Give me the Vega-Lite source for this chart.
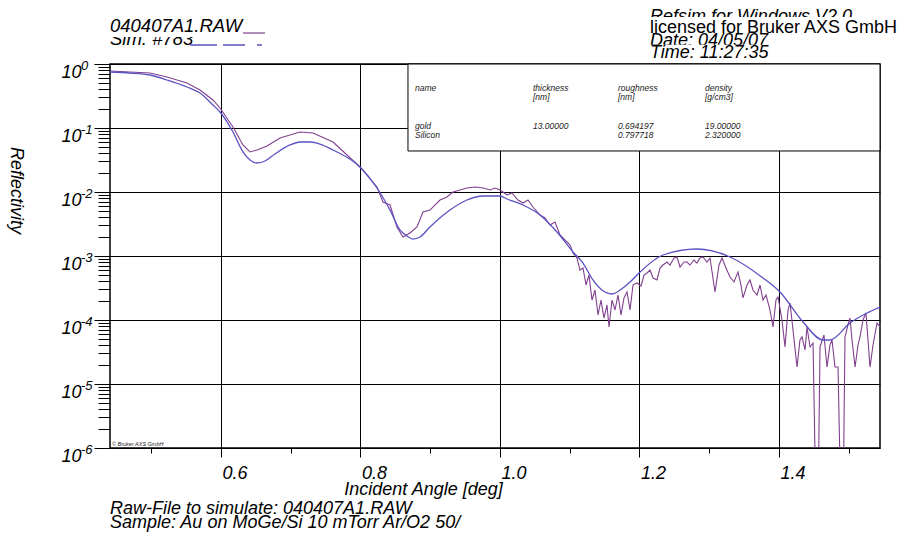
{
  "$schema": "https://vega.github.io/schema/vega-lite/v6.json",
  "width": 770,
  "height": 384,
  "autosize": {"type": "none"},
  "padding": {"left": 110, "top": 64, "right": 29, "bottom": 92},
  "background": "white",
  "config": {"font": "Liberation Sans", "view": {"stroke": "#000", "strokeWidth": 1.5}},
  "datasets": {
    "measured": [
      {"a": 0.4409, "r": 0.777}, {"a": 0.4695, "r": 0.75}, {"a": 0.4982, "r": 0.7236}, {"a": 0.5226, "r": 0.626},
      {"a": 0.5513, "r": 0.5046}, {"a": 0.5699, "r": 0.3925}, {"a": 0.5885, "r": 0.274}, {"a": 0.5986, "r": 0.2054},
      {"a": 0.6172, "r": 0.1037}, {"a": 0.6315, "r": 0.0543}, {"a": 0.6416, "r": 0.0422}, {"a": 0.6516, "r": 0.0453},
      {"a": 0.666, "r": 0.0523}, {"a": 0.6846, "r": 0.0698}, {"a": 0.7133, "r": 0.0866}, {"a": 0.7319, "r": 0.0835},
      {"a": 0.7606, "r": 0.0604}, {"a": 0.7993, "r": 0.0246}, {"a": 0.8237, "r": 0.01197}, {"a": 0.8323, "r": 0.00698},
      {"a": 0.8423, "r": 0.00626}, {"a": 0.8523, "r": 0.00284}, {"a": 0.8609, "r": 0.00198}, {"a": 0.871, "r": 0.00229},
      {"a": 0.881, "r": 0.00284}, {"a": 0.8896, "r": 0.00487}, {"a": 0.8996, "r": 0.00523}, {"a": 0.914, "r": 0.0075},
      {"a": 0.924, "r": 0.00835}, {"a": 0.9326, "r": 0.01}, {"a": 0.9427, "r": 0.01074}, {"a": 0.9527, "r": 0.01155},
      {"a": 0.9642, "r": 0.01197}, {"a": 0.9756, "r": 0.01155}, {"a": 0.9857, "r": 0.01074}, {"a": 0.9928, "r": 0.01155},
      {"a": 1.0, "r": 0.01074}, {"a": 1.0101, "r": 0.00898}, {"a": 1.0172, "r": 0.00965}, {"a": 1.0258, "r": 0.0075},
      {"a": 1.033, "r": 0.00673}, {"a": 1.0401, "r": 0.0075}, {"a": 1.0473, "r": 0.00583}, {"a": 1.0574, "r": 0.00437},
      {"a": 1.0645, "r": 0.003925}, {"a": 1.0717, "r": 0.00305}, {"a": 1.0789, "r": 0.0034}, {"a": 1.086, "r": 0.00213},
      {"a": 1.0932, "r": 0.00178}, {"a": 1.1004, "r": 0.001486}, {"a": 1.1047, "r": 0.001114}, {"a": 1.1104, "r": 0.00093},
      {"a": 1.1147, "r": 0.000604}, {"a": 1.119, "r": 0.000649}, {"a": 1.1233, "r": 0.000352}, {"a": 1.1276, "r": 0.000505},
      {"a": 1.1319, "r": 0.000205}, {"a": 1.1362, "r": 0.000294}, {"a": 1.1405, "r": 0.0001197}, {"a": 1.1448, "r": 0.000205},
      {"a": 1.1491, "r": 0.0001074}, {"a": 1.1534, "r": 0.0001716}, {"a": 1.1563, "r": 0.0000777}, {"a": 1.1606, "r": 0.000205},
      {"a": 1.1649, "r": 0.0001433}, {"a": 1.1692, "r": 0.000246}, {"a": 1.1735, "r": 0.0001197}, {"a": 1.1778, "r": 0.000221},
      {"a": 1.1821, "r": 0.000274}, {"a": 1.1864, "r": 0.0001433}, {"a": 1.1907, "r": 0.000352}, {"a": 1.1964, "r": 0.000379},
      {"a": 1.2022, "r": 0.00034}, {"a": 1.2065, "r": 0.000505}, {"a": 1.2108, "r": 0.000543}, {"a": 1.2151, "r": 0.000604},
      {"a": 1.2194, "r": 0.000453}, {"a": 1.2251, "r": 0.000422}, {"a": 1.2294, "r": 0.000649}, {"a": 1.2337, "r": 0.000723},
      {"a": 1.2394, "r": 0.000806}, {"a": 1.2437, "r": 0.000723}, {"a": 1.2495, "r": 0.00093}, {"a": 1.2538, "r": 0.000965},
      {"a": 1.2581, "r": 0.000673}, {"a": 1.2638, "r": 0.000806}, {"a": 1.2681, "r": 0.000806}, {"a": 1.2724, "r": 0.000723},
      {"a": 1.2781, "r": 0.000866}, {"a": 1.2824, "r": 0.000777}, {"a": 1.2867, "r": 0.00093}, {"a": 1.291, "r": 0.000965},
      {"a": 1.2968, "r": 0.000806}, {"a": 1.3011, "r": 0.00093}, {"a": 1.3083, "r": 0.000274}, {"a": 1.314, "r": 0.000723},
      {"a": 1.3183, "r": 0.00093}, {"a": 1.324, "r": 0.000649}, {"a": 1.3298, "r": 0.00047}, {"a": 1.3355, "r": 0.000392},
      {"a": 1.3412, "r": 0.000562}, {"a": 1.3455, "r": 0.000352}, {"a": 1.3484, "r": 0.000221}, {"a": 1.3541, "r": 0.000352},
      {"a": 1.3584, "r": 0.000422}, {"a": 1.3627, "r": 0.000294}, {"a": 1.3685, "r": 0.000246}, {"a": 1.3728, "r": 0.000352},
      {"a": 1.3771, "r": 0.000205}, {"a": 1.3814, "r": 0.000246}, {"a": 1.3871, "r": 0.0001433}, {"a": 1.3914, "r": 0.0000777},
      {"a": 1.3957, "r": 0.000205}, {"a": 1.3986, "r": 0.000229}, {"a": 1.4043, "r": 0.0001}, {"a": 1.4086, "r": 0.0000379},
      {"a": 1.4129, "r": 0.0001433}, {"a": 1.4158, "r": 0.000184}, {"a": 1.4201, "r": 0.0000698}, {"a": 1.4258, "r": 0.0000184},
      {"a": 1.4301, "r": 0.0000487}, {"a": 1.433, "r": 0.0000543}, {"a": 1.4373, "r": 0.000034}, {"a": 1.4402, "r": 0.0000777},
      {"a": 1.4445, "r": 0.0000379}, {"a": 1.4488, "r": 0.0000437}, {"a": 1.4531, "r": 0.0000001}, {"a": 1.4559, "r": 0.0000001},
      {"a": 1.4588, "r": 0.0000379}, {"a": 1.4645, "r": 0.0000583}, {"a": 1.4688, "r": 0.0000184}, {"a": 1.4731, "r": 0.0000407},
      {"a": 1.476, "r": 0.0000487}, {"a": 1.4803, "r": 0.0000184}, {"a": 1.4846, "r": 0.0000184}, {"a": 1.4889, "r": 0.0000001},
      {"a": 1.4918, "r": 0.0000001}, {"a": 1.4946, "r": 0.0000543}, {"a": 1.4989, "r": 0.0000835}, {"a": 1.5018, "r": 0.0001074},
      {"a": 1.5047, "r": 0.0000487}, {"a": 1.509, "r": 0.0000184}, {"a": 1.5133, "r": 0.0000407}, {"a": 1.5161, "r": 0.0000543},
      {"a": 1.5204, "r": 0.0001}, {"a": 1.5247, "r": 0.0001287}, {"a": 1.5276, "r": 0.0000487}, {"a": 1.5305, "r": 0.0000184},
      {"a": 1.5348, "r": 0.0000407}, {"a": 1.5405, "r": 0.0000898}, {"a": 1.5448, "r": 0.0000777}
    ],
    "simulated": [
      {"a": 0.4409, "r": 0.75}, {"a": 0.4695, "r": 0.7236}, {"a": 0.4982, "r": 0.673}, {"a": 0.5226, "r": 0.5623},
      {"a": 0.5513, "r": 0.4371}, {"a": 0.5699, "r": 0.3522}, {"a": 0.5885, "r": 0.2288}, {"a": 0.5986, "r": 0.1778},
      {"a": 0.6172, "r": 0.0866}, {"a": 0.6315, "r": 0.0422}, {"a": 0.6416, "r": 0.0316}, {"a": 0.6516, "r": 0.0284},
      {"a": 0.6631, "r": 0.0305}, {"a": 0.6774, "r": 0.0393}, {"a": 0.6989, "r": 0.0543}, {"a": 0.7133, "r": 0.0604},
      {"a": 0.7276, "r": 0.0604}, {"a": 0.7419, "r": 0.0562}, {"a": 0.7606, "r": 0.0453}, {"a": 0.7993, "r": 0.0246},
      {"a": 0.8237, "r": 0.01155}, {"a": 0.8423, "r": 0.00523}, {"a": 0.8566, "r": 0.00255}, {"a": 0.8667, "r": 0.00205},
      {"a": 0.8753, "r": 0.00184}, {"a": 0.8853, "r": 0.00198}, {"a": 0.8996, "r": 0.00284}, {"a": 0.9283, "r": 0.00523},
      {"a": 0.9527, "r": 0.0075}, {"a": 0.9756, "r": 0.00866}, {"a": 1.0, "r": 0.00866}, {"a": 1.0101, "r": 0.00777},
      {"a": 1.033, "r": 0.00626}, {"a": 1.0574, "r": 0.00437}, {"a": 1.0817, "r": 0.00237}, {"a": 1.1047, "r": 0.001155},
      {"a": 1.119, "r": 0.000777}, {"a": 1.1333, "r": 0.000422}, {"a": 1.1462, "r": 0.000294}, {"a": 1.1606, "r": 0.000255},
      {"a": 1.1763, "r": 0.000316}, {"a": 1.1864, "r": 0.000392}, {"a": 1.2007, "r": 0.000562}, {"a": 1.2337, "r": 0.001037},
      {"a": 1.2824, "r": 0.001287}, {"a": 1.3298, "r": 0.000965}, {"a": 1.3771, "r": 0.000453}, {"a": 1.4014, "r": 0.000274},
      {"a": 1.4344, "r": 0.0000931}, {"a": 1.4631, "r": 0.0000487}, {"a": 1.4731, "r": 0.0000487}, {"a": 1.5018, "r": 0.0000898},
      {"a": 1.5262, "r": 0.0001287}, {"a": 1.5448, "r": 0.0001596}
    ],
    "exponents": [
      {"r": 1, "e": "0"}, {"r": 0.1, "e": "-1"}, {"r": 0.01, "e": "-2"}, {"r": 0.001, "e": "-3"},
      {"r": 0.0001, "e": "-4"}, {"r": 0.00001, "e": "-5"}, {"r": 0.000001, "e": "-6"}
    ],
    "one": [{}]
  },
  "layer": [
    {
      "data": {"name": "measured"},
      "mark": {"type": "line", "clip": true, "color": "#80408f", "strokeWidth": 1.1},
      "encoding": {
        "x": {
          "field": "a", "type": "quantitative",
          "scale": {"domain": [0.4409, 1.5448], "nice": false, "zero": false},
          "axis": {
            "values": [0.5, 0.6, 0.7, 0.8, 0.9, 1.0, 1.1, 1.2, 1.3, 1.4, 1.5],
            "domain": false,
            "grid": true, "gridColor": "#000", "gridWidth": 1,
            "gridOpacity": {"condition": {"test": "round(datum.value*10)%2==0", "value": 1}, "value": 0},
            "ticks": true, "tickColor": "#000", "tickWidth": 1,
            "tickSize": {"condition": {"test": "round(datum.value*10)%2==0", "value": 9}, "value": 5},
            "labelExpr": "round(datum.value*10)%2==0 ? format(datum.value,'.1f') : ''",
            "labelAlign": "left", "labelBaseline": "alphabetic", "labelPadding": 21, "labelOffset": 1,
            "labelFlush": false, "labelOverlap": false,
            "labelFontSize": 18, "labelFontStyle": "italic", "labelColor": "#000",
            "title": "Incident Angle [deg]", "titleFontSize": 18, "titleFontStyle": "italic", "titleFontWeight": "normal",
            "titleColor": "#000", "titleX": 313, "titleY": 46, "titleBaseline": "alphabetic", "titleAlign": "center"
          }
        },
        "y": {
          "field": "r", "type": "quantitative",
          "scale": {"type": "log", "domain": [0.000001, 1], "nice": false},
          "axis": {
            "values": [0.000001, 0.000002, 0.000003, 0.000004, 0.000005, 0.000006, 0.000007, 0.000008, 0.000009,
                       0.00001, 0.00002, 0.00003, 0.00004, 0.00005, 0.00006, 0.00007, 0.00008, 0.00009,
                       0.0001, 0.0002, 0.0003, 0.0004, 0.0005, 0.0006, 0.0007, 0.0008, 0.0009,
                       0.001, 0.002, 0.003, 0.004, 0.005, 0.006, 0.007, 0.008, 0.009,
                       0.01, 0.02, 0.03, 0.04, 0.05, 0.06, 0.07, 0.08, 0.09,
                       0.1, 0.2, 0.3, 0.4, 0.5, 0.6, 0.7, 0.8, 0.9, 1],
            "domain": false,
            "grid": true, "gridColor": "#000", "gridWidth": 1,
            "gridOpacity": {"condition": {"test": "abs(log(datum.value)/LN10 - round(log(datum.value)/LN10)) < 0.01", "value": 1}, "value": 0},
            "ticks": true, "tickColor": "#000", "tickWidth": 1,
            "tickSize": {"condition": {"test": "abs(log(datum.value)/LN10 - round(log(datum.value)/LN10)) < 0.01", "value": 16}, "value": 12},
            "labelExpr": "abs(log(datum.value)/LN10 - round(log(datum.value)/LN10)) < 0.01 ? '10' : ''",
            "labelAlign": "right", "labelBaseline": "alphabetic", "labelPadding": 13, "labelOffset": 13,
            "labelFlush": false, "labelOverlap": false,
            "labelFontSize": 18, "labelFontStyle": "italic", "labelColor": "#000",
            "title": "Reflectivity", "titleFontSize": 18, "titleFontStyle": "italic", "titleFontWeight": "normal",
            "titleColor": "#000", "titleAngle": 90, "titleX": -95, "titleY": 126, "titleAlign": "center", "titleBaseline": "middle"
          }
        }
      }
    },
    {
      "data": {"name": "simulated"},
      "mark": {"type": "line", "clip": true, "interpolate": "monotone", "color": "#5a52c2", "strokeWidth": 1.3},
      "encoding": {
        "x": {"field": "a", "type": "quantitative"},
        "y": {"field": "r", "type": "quantitative"}
      }
    },
    {
      "data": {"name": "one"},
      "mark": {"type": "rect", "fill": "white", "stroke": "#000", "strokeWidth": 1},
      "encoding": {
        "x": {"datum": 0.8681}, "x2": {"datum": 1.5448},
        "y": {"datum": 1}, "y2": {"datum": 0.04375}
      }
    },
    {
      "data": {"name": "one"},
      "mark": {"type": "text", "text": "name", "fontSize": 8.5, "fontStyle": "italic", "align": "left", "baseline": "alphabetic", "color": "#222"},
      "encoding": {"x": {"datum": 0.8781}, "y": {"datum": 0.3787}}
    },
    {
      "data": {"name": "one"},
      "mark": {"type": "text", "text": ["thickness", "[nm]"], "lineHeight": 9, "fontSize": 8.5, "fontStyle": "italic", "align": "left", "baseline": "alphabetic", "color": "#222"},
      "encoding": {"x": {"datum": 1.0473}, "y": {"datum": 0.3787}}
    },
    {
      "data": {"name": "one"},
      "mark": {"type": "text", "text": ["roughness", "[nm]"], "lineHeight": 9, "fontSize": 8.5, "fontStyle": "italic", "align": "left", "baseline": "alphabetic", "color": "#222"},
      "encoding": {"x": {"datum": 1.1692}, "y": {"datum": 0.3787}}
    },
    {
      "data": {"name": "one"},
      "mark": {"type": "text", "text": ["density", "[g/cm3]"], "lineHeight": 9, "fontSize": 8.5, "fontStyle": "italic", "align": "left", "baseline": "alphabetic", "color": "#222"},
      "encoding": {"x": {"datum": 1.2939}, "y": {"datum": 0.3787}}
    },
    {
      "data": {"name": "one"},
      "mark": {"type": "text", "text": ["gold", "Silicon"], "lineHeight": 8.5, "fontSize": 8.5, "fontStyle": "italic", "align": "left", "baseline": "alphabetic", "color": "#222"},
      "encoding": {"x": {"datum": 0.8781}, "y": {"datum": 0.0963}}
    },
    {
      "data": {"name": "one"},
      "mark": {"type": "text", "text": "13.00000", "fontSize": 8.5, "fontStyle": "italic", "align": "left", "baseline": "alphabetic", "color": "#222"},
      "encoding": {"x": {"datum": 1.0473}, "y": {"datum": 0.0963}}
    },
    {
      "data": {"name": "one"},
      "mark": {"type": "text", "text": ["0.694197", "0.797718"], "lineHeight": 8.5, "fontSize": 8.5, "fontStyle": "italic", "align": "left", "baseline": "alphabetic", "color": "#222"},
      "encoding": {"x": {"datum": 1.1692}, "y": {"datum": 0.0963}}
    },
    {
      "data": {"name": "one"},
      "mark": {"type": "text", "text": ["19.00000", "2.320000"], "lineHeight": 8.5, "fontSize": 8.5, "fontStyle": "italic", "align": "left", "baseline": "alphabetic", "color": "#222"},
      "encoding": {"x": {"datum": 1.2939}, "y": {"datum": 0.0963}}
    },
    {
      "data": {"name": "one"},
      "mark": {"type": "text", "text": "© Bruker AXS GmbH", "fontSize": 5.5, "fontStyle": "italic", "align": "left", "baseline": "alphabetic", "color": "#222"},
      "encoding": {"x": {"datum": 0.4437}, "y": {"datum": 0.000001075}}
    },
    {
      "data": {"name": "exponents"},
      "mark": {"type": "text", "fontSize": 13, "fontStyle": "italic", "align": "left", "baseline": "alphabetic", "dx": -29, "dy": 6, "color": "#000"},
      "encoding": {
        "x": {"datum": 0.4409},
        "y": {"field": "r", "type": "quantitative"},
        "text": {"field": "e"}
      }
    },
    {
      "data": {"name": "one"},
      "mark": {"type": "text", "text": "Sim. #783", "fontSize": 18.5, "fontStyle": "italic", "align": "left", "baseline": "alphabetic", "color": "#000"},
      "encoding": {"x": {"datum": 0.4409}, "y": {"datum": 1.981}}
    },
    {
      "data": {"name": "one"},
      "mark": {"type": "rule", "color": "#5a52c2", "strokeWidth": 1.3, "strokeDash": [27, 6, 22, 12, 5, 40]},
      "encoding": {"x": {"datum": 0.5556}, "x2": {"datum": 0.6588}, "y": {"datum": 1.981}}
    },
    {
      "data": {"name": "one"},
      "mark": {"type": "rect", "fill": "white"},
      "encoding": {"x": {"datum": 0.4409}, "x2": {"datum": 0.665}, "y": {"datum": 5.83}, "y2": {"datum": 2.641}}
    },
    {
      "data": {"name": "one"},
      "mark": {"type": "text", "text": "040407A1.RAW", "fontSize": 18.5, "fontStyle": "italic", "align": "left", "baseline": "alphabetic", "color": "#000"},
      "encoding": {"x": {"datum": 0.4409}, "y": {"datum": 3.162}}
    },
    {
      "data": {"name": "one"},
      "mark": {"type": "rule", "color": "#80408f", "strokeWidth": 1.2},
      "encoding": {"x": {"datum": 0.6315}, "x2": {"datum": 0.6631}, "y": {"datum": 3.05}}
    },
    {
      "data": {"name": "one"},
      "mark": {"type": "text", "text": "Refsim for Windows V2.0", "fontSize": 18, "fontStyle": "italic", "align": "left", "baseline": "alphabetic", "color": "#000"},
      "encoding": {"x": {"datum": 1.2151}, "y": {"datum": 4.532}}
    },
    {
      "data": {"name": "one"},
      "mark": {"type": "rect", "fill": "white"},
      "encoding": {"x": {"datum": 1.2122}, "x2": {"datum": 1.5807}, "y": {"datum": 5.425}, "y2": {"datum": 2.74}}
    },
    {
      "data": {"name": "one"},
      "mark": {"type": "text", "text": "licensed for Bruker AXS GmbH", "fontSize": 18, "align": "left", "baseline": "alphabetic", "color": "#000"},
      "encoding": {"x": {"datum": 1.2151}, "y": {"datum": 3.05}}
    },
    {
      "data": {"name": "one"},
      "mark": {"type": "text", "text": "Date:  04/05/07", "fontSize": 18, "fontStyle": "italic", "align": "left", "baseline": "alphabetic", "color": "#000"},
      "encoding": {"x": {"datum": 1.2151}, "y": {"datum": 1.91}}
    },
    {
      "data": {"name": "one"},
      "mark": {"type": "rect", "fill": "white"},
      "encoding": {"x": {"datum": 1.2122}, "x2": {"datum": 1.4158}, "y": {"datum": 2.0}, "y2": {"datum": 1.06}}
    },
    {
      "data": {"name": "one"},
      "mark": {"type": "text", "text": "Time:  11:27:35", "fontSize": 18, "fontStyle": "italic", "align": "left", "baseline": "alphabetic", "color": "#000"},
      "encoding": {"x": {"datum": 1.2151}, "y": {"datum": 1.24}}
    },
    {
      "data": {"name": "one"},
      "mark": {"type": "text", "text": "Raw-File to simulate: 040407A1.RAW", "fontSize": 18, "fontStyle": "italic", "align": "left", "baseline": "alphabetic", "color": "#000"},
      "encoding": {"x": {"datum": 0.4409}, "y": {"datum": 0.000000093}}
    },
    {
      "data": {"name": "one"},
      "mark": {"type": "text", "text": "Sample: Au on MoGe/Si 10 mTorr Ar/O2 50/", "fontSize": 18, "fontStyle": "italic", "align": "left", "baseline": "alphabetic", "color": "#000"},
      "encoding": {"x": {"datum": 0.4409}, "y": {"datum": 0.0000000562}}
    }
  ]
}
